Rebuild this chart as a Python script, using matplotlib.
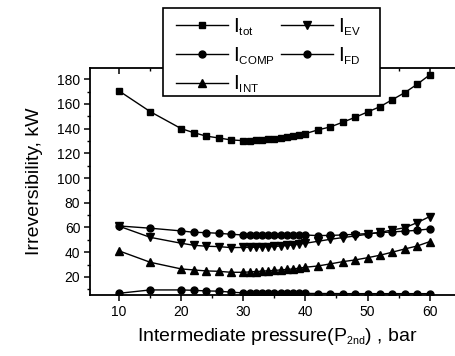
import matplotlib
matplotlib.use("Agg")
import matplotlib.pyplot as plt
import matplotlib._mathtext as _mt
from matplotlib.patches import Rectangle
from matplotlib.ticker import MultipleLocator

_mt.SHRINK_FACTOR = 0.55

plt.rcParams['font.family'] = ['Liberation Sans', 'DejaVu Sans']
plt.rcParams['mathtext.fontset'] = 'custom'
plt.rcParams['mathtext.rm'] = 'Liberation Sans'

pressure = [10, 15, 20, 22, 24, 26, 28, 30, 31, 32, 33, 34, 35, 36, 37, 38, 39, 40,
            42, 44, 46, 48, 50, 52, 54, 56, 58, 60]

I_tot = [170.5, 153.8, 140.0, 136.8, 134.0, 132.5, 130.9, 130.3, 130.4, 130.6, 130.9, 131.3,
         131.8, 132.4, 133.1, 133.9, 134.8, 136.0, 139.0, 141.4, 145.2, 149.2, 153.5, 157.8,
         163.5, 169.2, 176.0, 183.5]
I_EV = [61.0, 52.0, 47.2, 45.6, 44.8, 44.5, 43.7, 43.8, 43.9, 44.0, 44.2, 44.4, 44.6, 45.0,
        45.4, 45.9, 46.5, 47.2, 48.8, 50.4, 51.8, 53.1, 54.5, 56.1, 58.0, 59.8, 63.9, 68.8]
I_COMP = [61.2, 59.4, 57.2, 56.1, 55.8, 55.3, 54.5, 53.9, 53.9, 53.9, 53.9, 53.9, 53.9, 53.9,
          53.9, 53.9, 53.9, 53.9, 53.4, 53.6, 53.9, 54.5, 55.0, 55.8, 56.4, 57.0, 57.7, 58.8]
I_INT = [41.0, 31.8, 26.4, 25.6, 24.8, 24.5, 23.7, 23.7, 24.0, 24.3, 24.6, 24.9, 25.2, 25.6,
         26.0, 26.4, 27.0, 27.8, 28.8, 30.5, 32.3, 33.7, 35.5, 37.5, 40.0, 42.6, 45.0, 48.5]
I_FD = [6.7, 9.4, 9.4, 9.1, 8.6, 8.4, 7.6, 7.0, 6.9, 6.9, 6.8, 6.8, 6.8, 6.7, 6.7, 6.7, 6.7,
        6.6, 6.5, 6.5, 6.4, 6.4, 6.4, 6.4, 6.4, 6.4, 6.4, 6.4]

series = [
    (I_tot, 's', r'$\mathregular{I_{tot}}$', 4.5),
    (I_EV, 'v', r'$\mathregular{I_{EV}}$', 5.5),
    (I_COMP, 'o', r'$\mathregular{I_{COMP}}$', 5),
    (I_FD, 'o', r'$\mathregular{I_{FD}}$', 5),
    (I_INT, '^', r'$\mathregular{I_{INT}}$', 5.5),
]

W, H = 455, 356
fig = plt.figure(figsize=(W / 100, H / 100), dpi=100)
ax = fig.add_axes([90 / W, 61 / H, (465 - 90) / W, (295 - 68.3) / H])

handles = {}
for vals, mk, lab, ms in series:
    h, = ax.plot(pressure, vals, color='black', lw=1.0, marker=mk, ms=ms,
                 mfc='black', mec='black', label=lab)
    handles[lab] = h

ax.set_xlim(5.3, 65.7)
ax.set_ylim(5.3, 188.9)
ax.xaxis.set_minor_locator(MultipleLocator(5))
ax.set_xticks([10, 20, 30, 40, 50, 60])
ax.yaxis.set_minor_locator(MultipleLocator(10))
ax.set_yticks([20, 40, 60, 80, 100, 120, 140, 160, 180])

ax.spines['right'].set_visible(False)
for s in ['left', 'bottom', 'top']:
    ax.spines[s].set_linewidth(1.3)

ax.tick_params(axis='both', which='major', direction='out', length=4, width=1.1,
               labelsize=10, pad=3)
ax.tick_params(axis='both', which='minor', direction='out', length=2.5, width=1.0)
ax.tick_params(axis='x', which='both', top=True, labeltop=False)
for t in ax.xaxis.get_major_ticks() + ax.xaxis.get_minor_ticks():
    t.tick2line.set_marker(matplotlib.lines.TICKDOWN)

ax.set_xlabel(r'Intermediate pressure(P$\mathregular{_{2nd}}$) , bar', fontsize=14, labelpad=5)
ax.set_ylabel('Irreversibility, kW', fontsize=14, labelpad=10)

# legend box (frame drawn separately to match the reference box)
box = Rectangle((163 / W, 1 - 96 / H), (380 - 163) / W, (96 - 8) / H,
                transform=fig.transFigure, facecolor='white', edgecolor='black',
                linewidth=1.2, zorder=4)
fig.patches.append(box)

order = [r'$\mathregular{I_{tot}}$', r'$\mathregular{I_{COMP}}$', r'$\mathregular{I_{INT}}$',
         r'$\mathregular{I_{EV}}$', r'$\mathregular{I_{FD}}$']
leg = fig.legend([handles[k] for k in order], order, ncol=2,
                 loc='upper left', bbox_to_anchor=(163 / W, 1 - 4 / H),
                 fontsize=15, frameon=False, handlelength=2.5, handletextpad=0.25,
                 columnspacing=0.3, labelspacing=0.36, borderpad=0.6,
                 borderaxespad=0)
leg.set_zorder(5)

fig.savefig('out.png', dpi=100)
